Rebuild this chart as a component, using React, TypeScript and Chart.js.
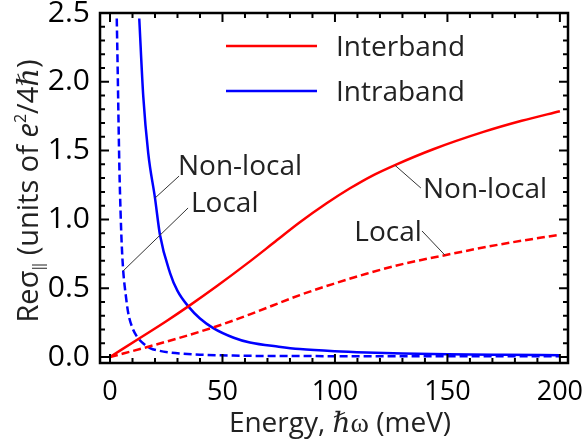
import React, { useEffect, useRef } from "react";
import { Chart, registerables } from "chart.js";

Chart.register(...registerables);

// ---------- data ----------
const interNonLocalX = [0, 13.3, 25, 34.8, 47.4, 62.2, 72.6, 84.4, 96.3, 106.7, 116.5, 126.7, 143.7, 166, 183, 200];
const interNonLocalY = [0, 0.138, 0.26, 0.368, 0.514, 0.695, 0.828, 0.979, 1.117, 1.226, 1.317, 1.395, 1.51, 1.636, 1.717, 1.786];

const interLocalX = [0, 17.8, 45.9, 62.2, 84.4, 99, 114, 130, 148.9, 173.3, 200];
const interLocalY = [0, 0.078, 0.215, 0.31, 0.45, 0.53, 0.605, 0.675, 0.74, 0.818, 0.889];

const intraNonLocalX = [13.0, 14.8, 17.0, 20.0, 22.2, 26.7, 30, 34.8, 40, 45.9, 55, 62.2, 75, 84.4, 100, 114, 130, 150, 175, 200];
const intraNonLocalY = [2.46, 1.89, 1.48, 1.155, 0.889, 0.61, 0.48, 0.368, 0.28, 0.21, 0.14, 0.105, 0.075, 0.058, 0.042, 0.033, 0.026, 0.02, 0.016, 0.013];

const intraLocalX = [3.0, 3.4, 3.8, 4.2, 4.7, 5.2, 5.9, 7.0, 8.1, 10, 11.9, 14, 17.8, 22, 27, 32.6, 40, 54.8, 80, 120, 160, 200];
const intraLocalY = [2.46, 2.1, 1.7, 1.35, 1.05, 0.82, 0.62, 0.45, 0.32, 0.21, 0.15, 0.11, 0.065, 0.045, 0.032, 0.024, 0.017, 0.01, 0.007, 0.006, 0.005, 0.005];

const xMajorTicks = [0, 50, 100, 150, 200];
const xMinorTicks = [0, 10, 20, 30, 40, 50, 60, 70, 80, 90, 100, 110, 120, 130, 140, 150, 160, 170, 180, 190, 200];
const yMajorTicks = [0, 0.5, 1.0, 1.5, 2.0, 2.5];
const yMinorTicks = [0, 0.1, 0.2, 0.3, 0.4, 0.5, 0.6, 0.7, 0.8, 0.9, 1.0, 1.1, 1.2, 1.3, 1.4, 1.5, 1.6, 1.7, 1.8, 1.9, 2.0, 2.1, 2.2, 2.3, 2.4, 2.5];

const legendLabels = ["Interband", "Intraband"];

// annotation labels: text, baseline anchor (data coords), leader line (data coords)
const annotationTexts = ["Non-local", "Local", "Non-local", "Local"];
const annotationTextX = [57.8, 51.0, 166.7, 123.6];
const annotationTextY = [1.323, 1.054, 1.156, 0.843];
const leaderFromX = [30.7, 34.7, 138.2, 138.7];
const leaderFromY = [1.315, 1.083, 1.228, 0.916];
const leaderToX = [20.0, 5.8, 126.7, 148.9];
const leaderToY = [1.155, 0.625, 1.393, 0.74];

const RED = "#ff0000";
const BLUE = "#0000ff";
const FONT = "'Open Sans', 'Noto Sans', sans-serif";

const pts = (xs: number[], ys: number[]) => xs.map((x, i) => ({ x, y: ys[i] }));

type Seg = { t: string; f: string; dy?: number };

function drawRich(ctx: CanvasRenderingContext2D, segs: Seg[], cx: number, baseY: number) {
  let total = 0;
  const widths = segs.map((s) => {
    ctx.font = s.f;
    const w = ctx.measureText(s.t).width;
    total += w;
    return w;
  });
  let x = cx - total / 2;
  ctx.textAlign = "left";
  ctx.textBaseline = "alphabetic";
  segs.forEach((s, i) => {
    ctx.font = s.f;
    ctx.fillText(s.t, x, baseY + (s.dy || 0));
    x += widths[i];
  });
}

const decorPlugin = {
  id: "decor",
  afterDatasetsDraw(chart: any) {
    const { ctx, chartArea: a, scales } = chart;
    const xs = scales.x;
    const ys = scales.y;
    ctx.save();

    // annotations
    ctx.strokeStyle = "#333";
    ctx.lineWidth = 1;
    annotationTexts.forEach((t, i) => {
      ctx.beginPath();
      ctx.moveTo(xs.getPixelForValue(leaderFromX[i]), ys.getPixelForValue(leaderFromY[i]));
      ctx.lineTo(xs.getPixelForValue(leaderToX[i]), ys.getPixelForValue(leaderToY[i]));
      ctx.stroke();
      ctx.fillStyle = "#222";
      ctx.font = `28px ${FONT}`;
      ctx.textAlign = "center";
      ctx.textBaseline = "alphabetic";
      ctx.fillText(t, xs.getPixelForValue(annotationTextX[i]), ys.getPixelForValue(annotationTextY[i]));
    });

    // legend
    const colors = [RED, BLUE];
    legendLabels.forEach((lab, i) => {
      const ly = a.top + 33 + i * 45;
      ctx.strokeStyle = colors[i];
      ctx.lineWidth = 2.5;
      ctx.beginPath();
      ctx.moveTo(a.left + 126, ly);
      ctx.lineTo(a.left + 217, ly);
      ctx.stroke();
      ctx.fillStyle = "#222";
      ctx.font = `28px ${FONT}`;
      ctx.textAlign = "left";
      ctx.textBaseline = "alphabetic";
      ctx.fillText(lab, a.left + 236, ly + 10);
    });

    // ticks (inward, all four sides)
    ctx.strokeStyle = "#000";
    ctx.lineWidth = 2;
    ctx.beginPath();
    xMinorTicks.forEach((v) => {
      const px = xs.getPixelForValue(v);
      const len = xMajorTicks.includes(v) ? 9 : 5;
      ctx.moveTo(px, a.bottom);
      ctx.lineTo(px, a.bottom - len);
      ctx.moveTo(px, a.top);
      ctx.lineTo(px, a.top + len);
    });
    yMinorTicks.forEach((v) => {
      const py = ys.getPixelForValue(v);
      const len = yMajorTicks.includes(v) ? 9 : 5;
      ctx.moveTo(a.left, py);
      ctx.lineTo(a.left + len, py);
      ctx.moveTo(a.right, py);
      ctx.lineTo(a.right - len, py);
    });
    ctx.stroke();

    // frame
    ctx.lineWidth = 2.5;
    ctx.strokeRect(a.left, a.top, a.right - a.left, a.bottom - a.top);

    // x title
    ctx.fillStyle = "#222";
    drawRich(
      ctx,
      [
        { t: "Energy, ", f: `28px ${FONT}` },
        { t: "ℏ", f: `italic 28px 'DejaVu Serif', serif` },
        { t: "ω", f: `28px 'Liberation Serif', serif` },
        { t: " (meV)", f: `28px ${FONT}` },
      ],
      (a.left + a.right) / 2 + 6,
      432
    );

    // y title
    ctx.translate(38, (a.top + a.bottom) / 2 + 3);
    ctx.rotate(-Math.PI / 2);
    drawRich(
      ctx,
      [
        { t: "Reσ", f: `29px ${FONT}` },
        { t: "‖", f: `14px ${FONT}`, dy: 5 },
        { t: " (units of ", f: `29px ${FONT}` },
        { t: "e", f: `italic 29px ${FONT}` },
        { t: "2", f: `16px ${FONT}`, dy: -12 },
        { t: "/4", f: `29px ${FONT}` },
        { t: "ℏ", f: `italic 29px 'DejaVu Serif', serif` },
        { t: ")", f: `29px ${FONT}` },
      ],
      0,
      0
    );
    ctx.restore();
  },
};

export default function App() {
  const ref = useRef<HTMLCanvasElement | null>(null);

  useEffect(() => {
    document.body.style.margin = "0";
    const canvas = ref.current!;
    const chart = new Chart(canvas, {
      type: "line",
      data: {
        datasets: [
          {
            label: "Interband non-local",
            data: pts(interNonLocalX, interNonLocalY),
            borderColor: RED,
            borderWidth: 2.5,
            pointRadius: 0,
            cubicInterpolationMode: "monotone",
            fill: false,
          },
          {
            label: "Interband local",
            data: pts(interLocalX, interLocalY),
            borderColor: RED,
            borderWidth: 2.5,
            borderDash: [8, 4],
            pointRadius: 0,
            cubicInterpolationMode: "monotone",
            fill: false,
          },
          {
            label: "Intraband non-local",
            data: pts(intraNonLocalX, intraNonLocalY),
            borderColor: BLUE,
            borderWidth: 2.5,
            pointRadius: 0,
            cubicInterpolationMode: "monotone",
            fill: false,
          },
          {
            label: "Intraband local",
            data: pts(intraLocalX, intraLocalY),
            borderColor: BLUE,
            borderWidth: 2.5,
            borderDash: [8, 4],
            pointRadius: 0,
            cubicInterpolationMode: "monotone",
            fill: false,
          },
        ],
      },
      options: {
        animation: false,
        responsive: false,
        devicePixelRatio: 1,
        layout: { padding: { top: 13, right: 17, left: 0, bottom: 0 } },
        plugins: { legend: { display: false }, tooltip: { enabled: false } },
        scales: {
          x: {
            type: "linear",
            min: -4.45,
            max: 203.6,
            grid: { display: false },
            border: { display: false },
            ticks: {
              padding: 5,
              color: "#000",
              font: { family: FONT, size: 27 },
              callback: (v: any) => String(v),
            },
            afterBuildTicks: (s: any) => {
              s.ticks = xMajorTicks.map((v) => ({ value: v }));
            },
            afterFit: (s: any) => {
              s.height = 83;
              s.paddingLeft = 0;
              s.paddingRight = 0;
            },
          },
          y: {
            type: "linear",
            min: -0.0436,
            max: 2.5,
            grid: { display: false },
            border: { display: false },
            ticks: {
              padding: 2,
              color: "#000",
              font: { family: FONT, size: 30 },
              callback: (v: any) => Number(v).toFixed(1),
            },
            afterBuildTicks: (s: any) => {
              s.ticks = yMajorTicks.map((v) => ({ value: v }));
            },
            afterFit: (s: any) => {
              s.width = 100;
              s.paddingTop = 0;
              s.paddingBottom = 0;
            },
          },
        },
      },
      plugins: [decorPlugin],
    } as any);
    if ((document as any).fonts && (document as any).fonts.ready) {
      (document as any).fonts.ready.then(() => chart.update());
    }
    return () => chart.destroy();
  }, []);

  return <canvas ref={ref} width={585} height={446} style={{ display: "block", width: 585, height: 446 }} />;
}
